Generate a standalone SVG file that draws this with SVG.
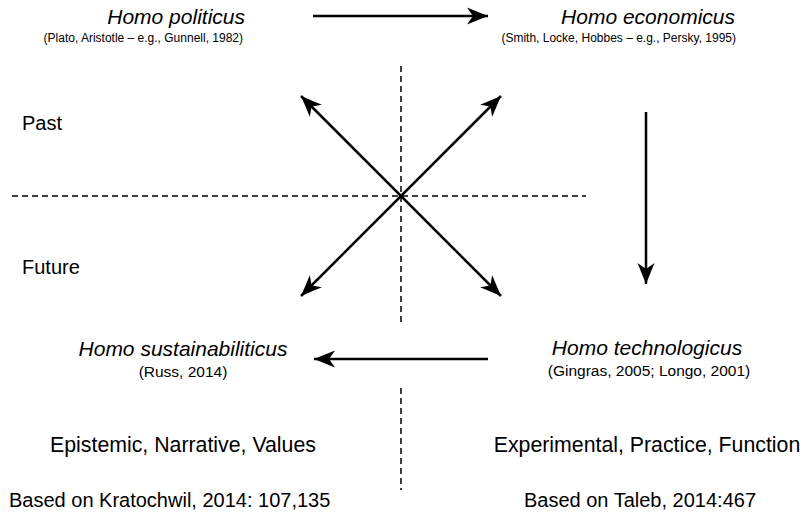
<svg xmlns="http://www.w3.org/2000/svg" width="806" height="525" viewBox="0 0 806 525">
  <style>
    text { font-family: "Liberation Sans", Arial, Helvetica, sans-serif; fill: #000; }
    .title { font-size: 21px; font-style: italic; }
    .ref { font-size: 12px; }
    .ref-lg { font-size: 15.5px; }
    .label { font-size: 20px; }
    .note { font-size: 21.3px; }
    .arrow { stroke: #000; stroke-width: 2.5; fill: none; }
    .axis { stroke: #000; stroke-width: 1.5; stroke-dasharray: 6 4; fill: none; }
  </style>
  <defs>
    <marker id="head" markerUnits="userSpaceOnUse" viewBox="-22 -10 24 20" refX="0" refY="0" markerWidth="24" markerHeight="20" orient="auto-start-reverse">
      <path d="M0,0 L-21,-8.5 L-15,0 L-21,8.5 Z" fill="#000"/>
    </marker>
  </defs>

  <rect width="806" height="525" fill="#fff"/>

  <!-- dashed axes -->
  <g id="axes">
    <line class="axis" x1="12" y1="196" x2="586" y2="196"/>
    <line class="axis" x1="401" y1="66" x2="401" y2="326"/>
    <line class="axis" x1="401" y1="388" x2="401" y2="490"/>
  </g>

  <!-- nodes -->
  <g id="politicus">
    <text class="title" x="245" y="24" text-anchor="end">Homo politicus</text>
    <text class="ref" x="243" y="42" text-anchor="end">(Plato, Aristotle – e.g., Gunnell, 1982)</text>
  </g>
  <g id="economicus">
    <text class="title" x="735" y="24" text-anchor="end">Homo economicus</text>
    <text class="ref" x="736" y="42" text-anchor="end">(Smith, Locke, Hobbes – e.g., Persky, 1995)</text>
  </g>
  <g id="technologicus">
    <text class="title" x="647" y="355" text-anchor="middle">Homo technologicus</text>
    <text class="ref-lg" x="649" y="376" text-anchor="middle">(Gingras, 2005; Longo, 2001)</text>
  </g>
  <g id="sustainabiliticus">
    <text class="title" x="183" y="356" text-anchor="middle">Homo sustainabiliticus</text>
    <text class="ref-lg" x="183" y="377" text-anchor="middle">(Russ, 2014)</text>
  </g>
  <g id="past">
    <text class="label" x="22" y="130">Past</text>
  </g>
  <g id="future">
    <text class="label" x="22" y="274">Future</text>
  </g>
  <g id="left-notes">
    <text class="note" x="183" y="452" text-anchor="middle">Epistemic, Narrative, Values</text>
    <text class="label" x="9" y="507">Based on Kratochwil, 2014: 107,135</text>
  </g>
  <g id="right-notes">
    <text class="note" x="647" y="452" text-anchor="middle">Experimental, Practice, Function</text>
    <text class="label" x="640" y="507" text-anchor="middle">Based on Taleb, 2014:467</text>
  </g>

  <!-- connectors -->
  <g id="connectors">
    <line class="arrow" x1="313" y1="16" x2="488" y2="16" marker-end="url(#head)"/>
    <line class="arrow" x1="646" y1="112" x2="646" y2="284" marker-end="url(#head)"/>
    <line class="arrow" x1="488" y1="359" x2="314" y2="359" marker-end="url(#head)"/>
    <line class="arrow" x1="301" y1="96" x2="501" y2="296" marker-start="url(#head)" marker-end="url(#head)"/>
    <line class="arrow" x1="501" y1="96" x2="301" y2="296" marker-start="url(#head)" marker-end="url(#head)"/>
  </g>
</svg>
